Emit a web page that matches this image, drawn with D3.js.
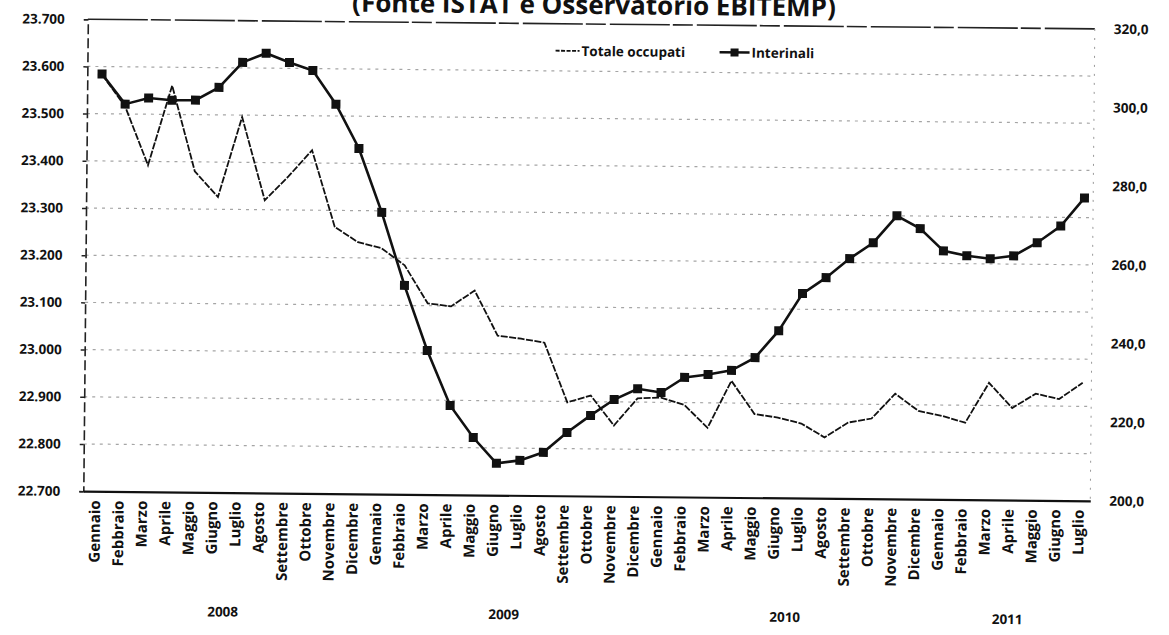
<!DOCTYPE html>
<html><head><meta charset="utf-8">
<script src="https://cdn.jsdelivr.net/npm/d3@7/dist/d3.min.js"></script>
<style>
body{margin:0;background:#fff}
text{font-family:"Open Sans","DejaVu Sans",sans-serif;font-weight:700;fill:#111}
</style></head>
<body><svg id="chart" width="1169" height="635"></svg>
<script>
// ---- data ----
const titleText = "(Fonte ISTAT e Osservatorio EBITEMP)";
const years = ["2008", "2009", "2010", "2011"];
const monthsPerYear = [12, 12, 12, 7];
const monthNames = ["Gennaio","Febbraio","Marzo","Aprile","Maggio","Giugno","Luglio","Agosto","Settembre","Ottobre","Novembre","Dicembre"];
const seriesNames = ["Totale occupati", "Interinali"];
// Totale occupati (migliaia, asse sinistro)
const totaleOccupati = [23583, 23516, 23392, 23561, 23380, 23326, 23496, 23320, 23371, 23427, 23265, 23233,
                        23221, 23185, 23105, 23099, 23133, 23038, 23032, 23024, 22898, 22913, 22850, 22908,
                        22910, 22895, 22847, 22947, 22877, 22870, 22858, 22829, 22861, 22870, 22923, 22887,
                        22877, 22863, 22948, 22895, 22926, 22915, 22950];
// Interinali (migliaia, asse destro)
const interinali = [306.1, 298.5, 300.1, 299.6, 299.7, 303.0, 309.4, 311.8, 309.5, 307.5, 299.0, 287.8,
                    271.6, 253.1, 236.6, 222.7, 214.6, 208.1, 208.9, 211.0, 216.1, 220.5, 224.6, 227.4,
                    226.5, 230.4, 231.2, 232.3, 235.6, 242.5, 252.0, 256.1, 261.0, 265.1, 272.0, 268.8,
                    263.2, 262.0, 261.3, 262.1, 265.5, 269.8, 277.0];
const leftTicks = [22700, 22800, 22900, 23000, 23100, 23200, 23300, 23400, 23500, 23600, 23700];
const rightTicks = [200, 220, 240, 260, 280, 300, 320];

// ---- build categories ----
const categories = [];
years.forEach((y, yi) => {
  for (let m = 0; m < monthsPerYear[yi]; m++) categories.push({key: monthNames[m] + " " + y, month: monthNames[m], year: y});
});

const m = {left: 85, right: 1092, top: 24, bottom: 496};
const svg = d3.select("#chart");
const root = svg.append("g").attr("transform", "rotate(0.55 585 318)");

const x = d3.scaleBand().domain(categories.map(d => d.key)).range([m.left, m.right]);
const yL = d3.scaleLinear().domain([22700, 23700]).range([m.bottom, m.top]);
const yR = d3.scaleLinear().domain([200, 320]).range([m.bottom, m.top]);
const itLocale = d3.formatLocale({decimal: ",", thousands: ".", grouping: [3], currency: ["€", ""]});
const fmtL = itLocale.format(",");
const fmtR = itLocale.format(",.1f");
const xOff = 3;
const cx = i => x(categories[i].key) + x.bandwidth() / 2 + xOff;

// gridlines
root.append("g").selectAll("line").data(leftTicks.filter(t => t > 22700 && t < 23700)).join("line")
  .attr("x1", m.left).attr("x2", m.right).attr("y1", d => yL(d)).attr("y2", d => yL(d))
  .attr("stroke", "#888").attr("stroke-width", 1.2).attr("stroke-dasharray", "3,5").attr("opacity", 0.75);

// frame lines
root.append("line").attr("x1", m.left).attr("x2", m.right).attr("y1", yL(23700)).attr("y2", yL(23700))
  .attr("stroke", "#222").attr("stroke-width", 1.6).attr("stroke-dasharray", "60,3,20,4");
root.append("line").attr("x1", m.right).attr("x2", m.right).attr("y1", m.top).attr("y2", m.bottom)
  .attr("stroke", "#999").attr("stroke-width", 1).attr("stroke-dasharray", "2,7");

// left axis
const axL = root.append("g").attr("transform", `translate(${m.left},0)`)
  .call(d3.axisLeft(yL).tickValues(leftTicks).tickFormat(fmtL).tickSize(4).tickPadding(19));
axL.select(".domain").attr("stroke", "#222").attr("stroke-width", 1.6).attr("stroke-dasharray", "10,4");
axL.selectAll(".tick line").attr("stroke", "#222").attr("stroke-width", 1.5);
axL.selectAll("text").attr("font-size", 13.5).attr("font-family", "Open Sans").attr("font-weight", 700).attr("fill", "#111");

// right axis
const axR = root.append("g").attr("transform", `translate(${m.right},0)`)
  .call(d3.axisRight(yR).tickValues(rightTicks).tickFormat(fmtR).tickSize(0).tickPadding(19));
axR.select(".domain").remove();
axR.selectAll("text").attr("font-size", 13.5).attr("font-family", "Open Sans").attr("font-weight", 700).attr("fill", "#111");

// bottom axis
const axB = root.append("g").attr("transform", `translate(0,${m.bottom})`)
  .call(d3.axisBottom(x).tickSize(0).tickFormat(k => categories.find(c => c.key === k).month));
axB.select(".domain").attr("stroke", "#111").attr("stroke-width", 2.2);
axB.selectAll("text").attr("font-size", 15).attr("font-family", "Open Sans").attr("font-weight", 700).attr("fill", "#111")
  .attr("text-anchor", "end").attr("transform", "rotate(-90)").attr("x", -9).attr("y", 0).attr("dy", "0.35em");

// year labels
let start = 0;
years.forEach((y, yi) => {
  const a = categories[start].key, b = categories[start + monthsPerYear[yi] - 1].key;
  const mid = (x(a) + x(b) + x.bandwidth()) / 2;
  root.append("text").attr("x", mid).attr("y", 620).attr("text-anchor", "middle").attr("font-size", 13.5).text(y);
  start += monthsPerYear[yi];
});

// lines
const lineTot = d3.line().x((d, i) => cx(i)).y(d => yL(d));
const lineInt = d3.line().x((d, i) => cx(i)).y(d => yR(d));
root.append("path").datum(totaleOccupati).attr("d", lineTot).attr("fill", "none")
  .attr("stroke", "#111").attr("stroke-width", 1.8).attr("stroke-dasharray", "7,1.5");
root.append("path").datum(interinali).attr("d", lineInt).attr("fill", "none")
  .attr("stroke", "#111").attr("stroke-width", 2.6);
root.append("g").selectAll("rect").data(interinali).join("rect")
  .attr("x", (d, i) => cx(i) - 4.5).attr("y", d => yR(d) - 4.5).attr("width", 9).attr("height", 9).attr("fill", "#111");

// legend
const lg = root.append("g");
lg.append("line").attr("x1", 553).attr("x2", 577).attr("y1", 51).attr("y2", 51).attr("stroke", "#111").attr("stroke-width", 1.8).attr("stroke-dasharray", "4,1.5");
lg.append("text").attr("x", 579).attr("y", 56).attr("font-size", 13.5).text(seriesNames[0]);
lg.append("line").attr("x1", 717).attr("x2", 747).attr("y1", 51).attr("y2", 51).attr("stroke", "#111").attr("stroke-width", 2.6);
lg.append("rect").attr("x", 728).attr("y", 47).attr("width", 8).attr("height", 8).attr("fill", "#111");
lg.append("text").attr("x", 749).attr("y", 56).attr("font-size", 13.5).text(seriesNames[1]);

// title (partially cut at the top, as in the scan)
root.append("text").attr("x", 591).attr("y", 14).attr("text-anchor", "middle").attr("font-size", 26).text(titleText);
</script></body></html>
